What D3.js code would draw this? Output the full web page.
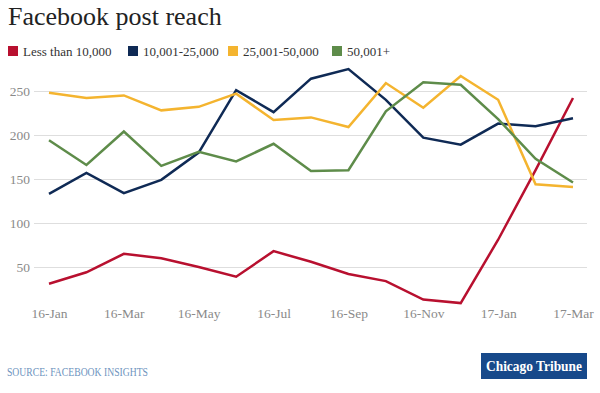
<!DOCTYPE html>
<html>
<head>
<meta charset="utf-8">
<script src="https://cdn.jsdelivr.net/npm/d3@7"></script>
<style>
  body { margin: 0; background: #fff; }
  svg text { font-family: "Liberation Serif", "DejaVu Serif", serif; }
  .y-axis .domain, .x-axis .domain, .x-axis .tick line { display: none; }
  .y-axis .tick line { stroke: #dedede; }
  .tick text { fill: #8a8a8a; font-size: 13.5px; }
</style>
</head>
<body>
<div id="chart"></div>
<script>
const months = ["16-Jan","16-Feb","16-Mar","16-Apr","16-May","16-Jun","16-Jul","16-Aug",
  "16-Sep","16-Oct","16-Nov","16-Dec","17-Jan","17-Feb","17-Mar"];
const xTicks = ["16-Jan","16-Mar","16-May","16-Jul","16-Sep","16-Nov","17-Jan","17-Mar"];
const yTicks = [50, 100, 150, 200, 250];

const lessThan10k = [31, 44, 65, 60, 50, 39, 68, 56, 42, 34, 13, 9, 81, 160, 242];
const from10kTo25k = [133, 157, 134, 149, 180, 251, 226, 264, 275, 240, 197, 189, 213, 210, 219];
const from25kTo50k = [248, 242, 245, 228, 232, 247, 217, 220, 209, 259, 231, 267, 240, 144, 141];
const over50k = [194, 166, 204, 165, 181, 170, 190, 159, 160, 227, 260, 257, 218, 173, 146];

const series = [
  { name: "Less than 10,000", color: "#b8102f", values: lessThan10k },
  { name: "10,001-25,000", color: "#0f2a55", values: from10kTo25k },
  { name: "25,001-50,000", color: "#f4b42f", values: from25kTo50k },
  { name: "50,001+", color: "#5e8c4a", values: over50k }
];

const W = 600, H = 393;
const svg = d3.select("#chart").append("svg").attr("width", W).attr("height", H);

svg.append("text").attr("x", 8).attr("y", 25)
  .style("font-size", "26px").style("fill", "#222")
  .text("Facebook post reach");

// legend
const legendX = [8, 128, 228, 332];
const leg = svg.selectAll(".leg").data(series).join("g")
  .attr("class", "leg")
  .attr("transform", (d, i) => `translate(${legendX[i]},46)`);
leg.append("rect").attr("width", 10).attr("height", 10).attr("fill", d => d.color);
leg.append("text").attr("x", 15).attr("y", 10)
  .style("font-size", "13px").style("fill", "#333").text(d => d.name);

const x = d3.scalePoint().domain(months).range([49, 573]);
const y = d3.scaleLinear().domain([0, 250]).range([311, 91]);

svg.append("g").attr("class", "y-axis")
  .attr("transform", "translate(34,0)")
  .call(d3.axisLeft(y).tickValues(yTicks).tickSize(-553).tickPadding(4));

svg.append("g").attr("class", "x-axis")
  .attr("transform", "translate(0,305)")
  .call(d3.axisBottom(x).tickValues(xTicks).tickSize(0).tickPadding(3));

const line = d3.line()
  .x((d, i) => x(months[i]))
  .y(d => y(d));

svg.selectAll(".series").data(series).join("path")
  .attr("class", "series")
  .attr("fill", "none")
  .attr("stroke", d => d.color)
  .attr("stroke-width", 2.5)
  .attr("stroke-linejoin", "miter")
  .attr("d", d => line(d.values));

svg.append("text").attr("x", 7).attr("y", 376)
  .style("font-size", "11.5px").style("fill", "#6e93be")
  .attr("textLength", 141).attr("lengthAdjust", "spacingAndGlyphs")
  .text("SOURCE: FACEBOOK INSIGHTS");

// logo
svg.append("rect").attr("x", 481).attr("y", 353).attr("width", 106).attr("height", 26)
  .attr("fill", "#17498a");
svg.append("text").attr("x", 534).attr("y", 371).attr("text-anchor", "middle")
  .style("font-size", "15px").style("font-weight", "bold").style("fill", "#fff")
  .attr("textLength", 96).attr("lengthAdjust", "spacingAndGlyphs")
  .text("Chicago Tribune");
</script>
</body>
</html>
